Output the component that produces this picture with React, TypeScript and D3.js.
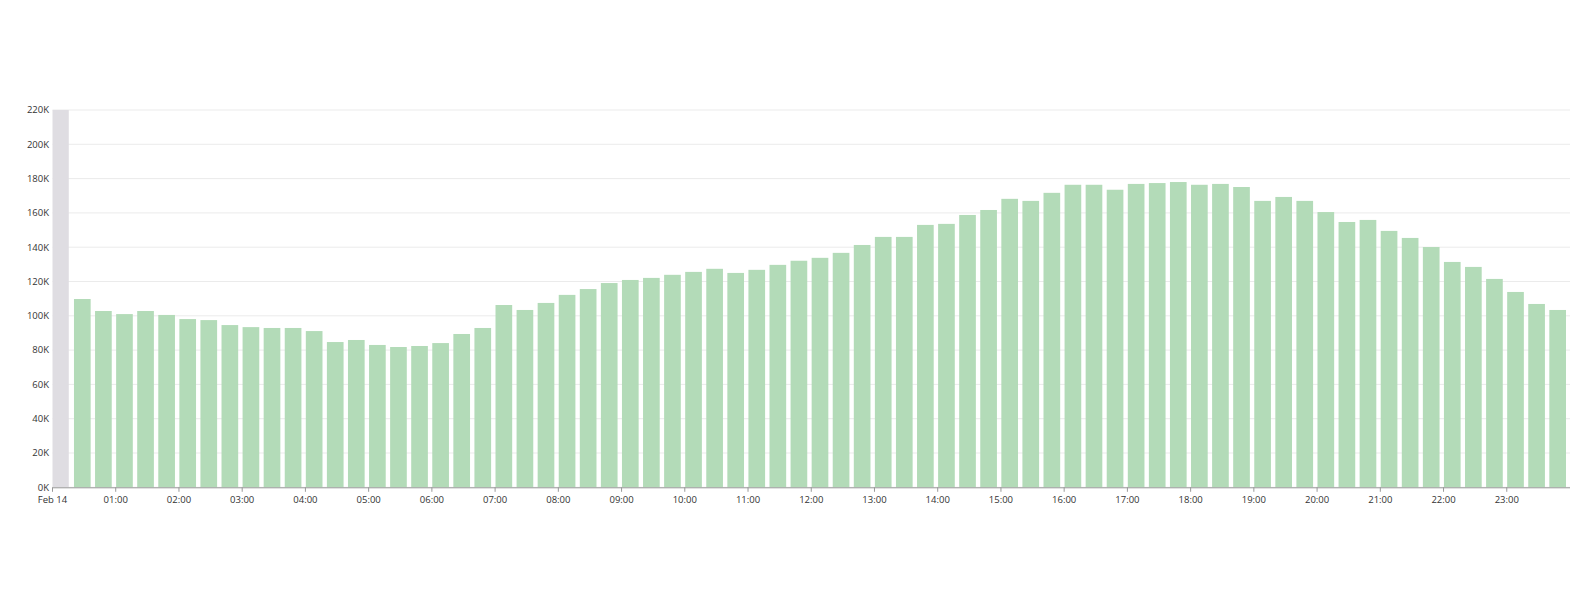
import React from "react";
import * as d3 from "d3";

// 20-minute bins, Feb 14, starting 00:20 (the 00:00 bin is shaded/incomplete)
const binStarts: string[] = [
  "00:20","00:40","01:00","01:20","01:40","02:00","02:20","02:40","03:00","03:20","03:40","04:00",
  "04:20","04:40","05:00","05:20","05:40","06:00","06:20","06:40","07:00","07:20","07:40","08:00",
  "08:20","08:40","09:00","09:20","09:40","10:00","10:20","10:40","11:00","11:20","11:40","12:00",
  "12:20","12:40","13:00","13:20","13:40","14:00","14:20","14:40","15:00","15:20","15:40","16:00",
  "16:20","16:40","17:00","17:20","17:40","18:00","18:20","18:40","19:00","19:20","19:40","20:00",
  "20:20","20:40","21:00","21:20","21:40","22:00","22:20","22:40","23:00","23:20","23:40",
];
const counts: number[] = [
  109800, 102800, 101000, 102800, 100500, 98100, 97500, 94600, 93400, 92900, 92900, 91100,
  84700, 85900, 83000, 81800, 82400, 84100, 89400, 92900, 106300, 103400, 107500, 112200,
  115600, 119100, 120900, 122100, 123900, 125600, 127400, 125000, 126800, 129700, 132100, 133800,
  136700, 141300, 146000, 146000, 153000, 153600, 158800, 161700, 168200, 167000, 171700, 176400,
  176400, 173500, 176900, 177400, 178000, 176400, 176900, 175100, 167000, 169300, 167000, 160500,
  154700, 155900, 149500, 145400, 140100, 131400, 128500, 121500, 113900, 106900, 103400,
];
const shadedBins: string[] = ["00:00"];
const yTicks: number[] = [0, 20000, 40000, 60000, 80000, 100000, 120000, 140000, 160000, 180000, 200000, 220000];
const dayLabel = "Feb 14";
const binMinutes = 20;

const W = 1583;
const H = 600;
const left = 52.5;
const right = 1570;
const top = 110;
const bottom = 487.3;

const day = new Date(2024, 1, 14, 0, 0, 0);
const parseT = (s: string) => {
  const [h, m] = s.split(":").map(Number);
  return new Date(2024, 1, 14, h, m, 0);
};

export default function App() {
  const x = d3.scaleTime().domain([day, d3.timeDay.offset(day, 1)]).range([left, right]);
  const y = d3.scaleLinear().domain([0, 220000]).range([bottom, top]);
  const step = x(d3.timeMinute.offset(day, binMinutes)) - x(day);
  const barW = step - 4.4;
  const fmtK = (v: number) => `${Math.round(v / 1000)}K`;
  const xTicks = x.ticks(d3.timeHour.every(1)!).filter((t) => t < d3.timeDay.offset(day, 1));
  const fmtX = (t: Date) => (t.getHours() === 0 ? dayLabel : d3.timeFormat("%H:%M")(t));
  const font = "'Open Sans', sans-serif";

  return (
    <svg width={W} height={H} style={{ position: "absolute", left: 0, top: 0 }} fontFamily={font}>
      <rect width={W} height={H} fill="#fff" />
      {/* gridlines */}
      {yTicks.map((v) => (
        <line key={"g" + v} x1={left} x2={right} y1={y(v)} y2={y(v)} stroke="#ebebeb" strokeWidth={1} />
      ))}
      {/* shaded bins */}
      {shadedBins.map((s) => (
        <rect key={"s" + s} x={x(parseT(s))} y={top} width={barW - 0.4} height={bottom - top} fill="#dfdde2" />
      ))}
      {/* bars */}
      {binStarts.map((s, i) => (
        <rect
          key={s}
          x={x(parseT(s)) + 0.4}
          y={y(counts[i])}
          width={barW}
          height={bottom - y(counts[i])}
          fill="#b3dbb8"
        />
      ))}
      {/* y labels */}
      {yTicks.map((v) => (
        <text
          key={"y" + v}
          x={49}
          y={y(v)}
          dy="0.35em"
          textAnchor="end"
          fontSize={9.5}
          fill="#333"
        >
          {fmtK(v)}
        </text>
      ))}
      {/* x axis */}
      <line x1={left} x2={right} y1={bottom + 0.5} y2={bottom + 0.5} stroke="#999" strokeWidth={1} />
      {xTicks.map((t) => (
        <g key={+t} transform={`translate(${x(t)},${bottom})`}>
          <line y1={0} y2={4.5} stroke="#999" strokeWidth={1} />
          <text y={12} dy="0.35em" textAnchor="middle" fontSize={9.5} fill="#333">
            {fmtX(t)}
          </text>
        </g>
      ))}
    </svg>
  );
}
